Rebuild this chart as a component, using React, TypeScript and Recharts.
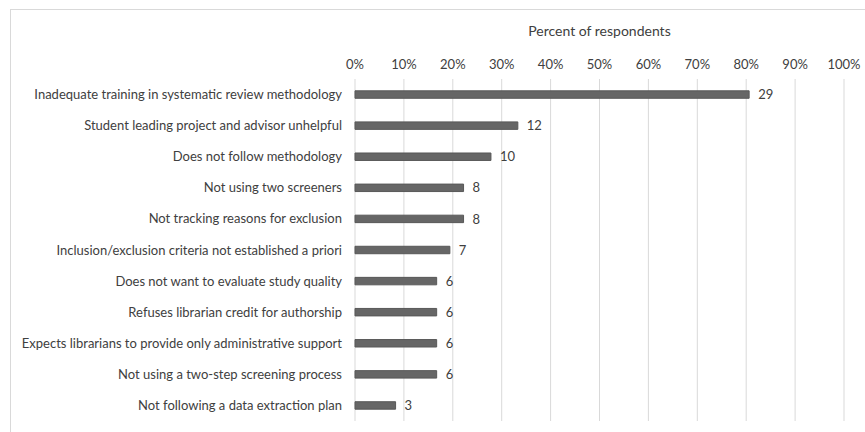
import { BarChart, Bar, XAxis, YAxis, CartesianGrid, LabelList, Label } from "recharts";

const reasons = [
  "Inadequate training in systematic review methodology",
  "Student leading project and advisor unhelpful",
  "Does not follow methodology",
  "Not using two screeners",
  "Not tracking reasons for exclusion",
  "Inclusion/exclusion criteria not established a priori",
  "Does not want to evaluate study quality",
  "Refuses librarian credit for authorship",
  "Expects librarians to provide only administrative support",
  "Not using a two-step screening process",
  "Not following a data extraction plan",
];
const percents = [80.6, 33.3, 27.8, 22.2, 22.2, 19.4, 16.7, 16.7, 16.7, 16.7, 8.3];
const counts = [29, 12, 10, 8, 8, 7, 6, 6, 6, 6, 3];
const xTicks = [0, 10, 20, 30, 40, 50, 60, 70, 80, 90, 100];

const data = reasons.map((reason, i) => ({ reason, pct: percents[i], n: counts[i] }));

const FONT = "Lato, 'Liberation Sans', sans-serif";
const TEXT = "#404040";

// single-line category label (the default tick wraps long text)
const ReasonTick = ({ x, y, payload }: any) => (
  <text x={x} y={y} dy={4.5} textAnchor="end" fontSize={13} fill={TEXT} fontFamily={FONT}>
    {payload.value}
  </text>
);

const App = () => {
  return (
    <div style={{ position: "absolute", left: 0, top: 0, width: 865, height: 432, background: "#fff", fontFamily: FONT }}>
      {/* chart frame, cropped on the right and bottom */}
      <div style={{ position: "absolute", left: 10, top: 9, right: -2, bottom: -2, borderTop: "1px solid #d9d9d9", borderLeft: "1px solid #d9d9d9" }} />
      <BarChart
        width={865}
        height={432}
        data={data}
        layout="vertical"
        margin={{ top: 20, right: 21, bottom: 11, left: 0 }}
        barCategoryGap="62%"
        style={{ position: "absolute", left: 0, top: 0 }}
      >
        <CartesianGrid horizontal={false} stroke="#d9d9d9" />
        <XAxis
          type="number"
          orientation="top"
          domain={[0, 100]}
          ticks={xTicks}
          tickFormatter={(v) => `${v}%`}
          height={59}
          axisLine={false}
          tickLine={false}
          tickSize={0}
          tickMargin={10}
          tick={{ fontSize: 13, fill: TEXT, fontFamily: FONT }}
        >
          <Label value="Percent of respondents" position="insideTop" offset={6} style={{ fontSize: 14, fill: TEXT, fontFamily: FONT }} />
        </XAxis>
        <YAxis
          type="category"
          dataKey="reason"
          width={355}
          axisLine={false}
          tickLine={false}
          tickSize={0}
          tickMargin={13}
          interval={0}
          tick={<ReasonTick />}
        />
        <Bar dataKey="pct" fill="#666666" stroke="#585858" isAnimationActive={false}>
          <LabelList dataKey="n" position="right" offset={9} style={{ fontSize: 13, fill: TEXT, fontFamily: FONT }} />
        </Bar>
      </BarChart>
    </div>
  );
};

export default App;
